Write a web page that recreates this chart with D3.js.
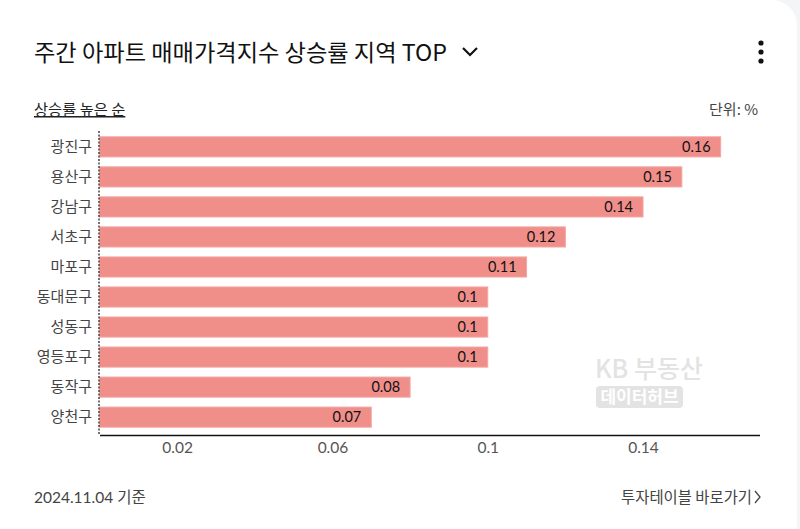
<!DOCTYPE html>
<html><head><meta charset="utf-8">
<script src="https://cdn.jsdelivr.net/npm/d3@7"></script>
<style>
html,body{margin:0;padding:0;background:#f4f5f7;}
svg{display:block;}
</style></head>
<body><svg id="c" width="800" height="529"></svg>
<script>
const categories = ["광진구","용산구","강남구","서초구","마포구","동대문구","성동구","영등포구","동작구","양천구"];
const values = [0.16,0.15,0.14,0.12,0.11,0.1,0.1,0.1,0.08,0.07];
const tickValues = [0.02,0.06,0.1,0.14];
const title = "주간 아파트 매매가격지수 상승률 지역 TOP";

const svg = d3.select("#c");
const KR = "'Noto Sans CJK KR','Noto Sans',sans-serif";
const NUM = "Lato,'Noto Sans',sans-serif";

// card
svg.append("path")
  .attr("d", "M-10,0 H772 A25,25 0 0 1 797,25 V540 H-10 Z")
  .attr("fill", "#fff");

svg.append("text").attr("x",34).attr("y",61).text(title)
  .attr("font-family",KR).attr("font-size",23).attr("fill","#111").attr("font-weight",400)
  .attr("textLength",413).attr("lengthAdjust","spacingAndGlyphs");
svg.append("path").attr("d","M463,48 L470,55 L477,48").attr("fill","none")
  .attr("stroke","#111").attr("stroke-width",2.2);
[43,52,61].forEach(cy=>svg.append("circle").attr("cx",761).attr("cy",cy).attr("r",2.6).attr("fill","#111"));

svg.append("text").attr("x",34).attr("y",115).text("상승률 높은 순")
  .attr("font-family",KR).attr("font-size",15.3).attr("fill","#222").attr("text-decoration","underline");
svg.append("text").attr("x",758).attr("y",115).attr("text-anchor","end").text("단위: %")
  .attr("font-family",KR).attr("font-size",15).attr("fill","#444");

const x = d3.scaleLinear().domain([0,0.17]).range([99.5,759.5]);
const y = d3.scaleBand().domain(categories).range([132,432]).paddingInner(0.33).paddingOuter(0.16);

// watermark
svg.append("text").attr("x",595).attr("y",378).text("KB 부동산")
  .attr("font-family",KR).attr("font-size",25).attr("fill","#e3e3e3").attr("font-weight",500);
svg.append("rect").attr("x",596).attr("y",386).attr("width",87).attr("height",22).attr("rx",4).attr("fill","#e3e3e3");
svg.append("text").attr("x",639.5).attr("y",403).attr("text-anchor","middle").text("데이터허브")
  .attr("font-family",KR).attr("font-size",17).attr("fill","#fff").attr("font-weight",700);

// bars
svg.append("g").selectAll("rect").data(values).join("rect")
  .attr("x",x(0)).attr("y",(d,i)=>y(categories[i]))
  .attr("width",d=>x(d)-x(0)).attr("height",y.bandwidth())
  .attr("fill","#f08e8a").attr("stroke","#f3a7a3").attr("stroke-width",1);

svg.append("g").selectAll("text").data(values).join("text")
  .attr("x",d=>x(d)-10).attr("y",(d,i)=>y(categories[i])+y.bandwidth()/2+5)
  .attr("text-anchor","end").text(d=>d3.format("~g")(d))
  .attr("font-family",NUM).attr("font-size",14.5).attr("fill","#111");

// axes
const xa = svg.append("g").attr("transform","translate(0,435)")
  .call(d3.axisBottom(x).tickValues(tickValues).tickSize(0).tickPadding(7).tickFormat(d3.format("~g")));
xa.select(".domain").attr("stroke","#111").attr("stroke-width",1.5);
xa.selectAll("text").attr("font-family",NUM).attr("font-size",15.5).attr("fill","#555");

const ya = svg.append("g").attr("transform","translate(99,0)")
  .call(d3.axisLeft(y).tickSize(0).tickPadding(7));
ya.select(".domain").attr("d","M0,131V435").attr("stroke","#444").attr("stroke-width",1.5).attr("stroke-dasharray","2,1.5");
ya.selectAll("text").attr("font-family",KR).attr("font-size",15).attr("fill","#444");

// footer
svg.append("text").attr("x",34).attr("y",503).text("2024.11.04 기준")
  .attr("font-family",NUM+",'Noto Sans CJK KR'").attr("font-size",15.5).attr("fill","#444");
svg.append("text").attr("x",752).attr("y",503).attr("text-anchor","end").text("투자테이블 바로가기")
  .attr("font-family",KR).attr("font-size",15.4).attr("fill","#444");
svg.append("path").attr("d","M755,491 L760,497 L755,503").attr("fill","none").attr("stroke","#444").attr("stroke-width",1.3);
</script></body></html>
